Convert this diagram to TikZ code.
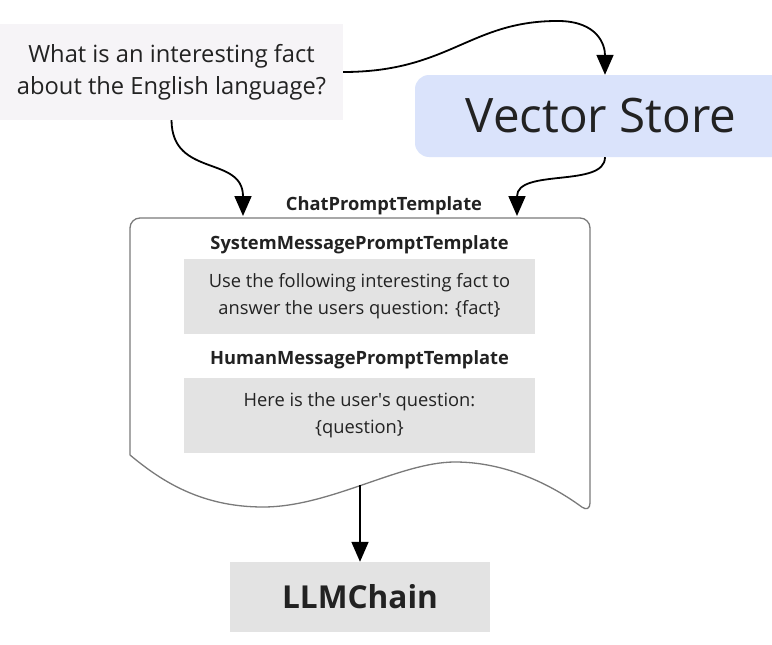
\documentclass[tikz,border=0pt]{standalone}
\usepackage{fontspec}
\setmainfont{Open Sans}
\usetikzlibrary{arrows.meta}

\definecolor{qfill}{HTML}{F6F4F7}
\definecolor{vsfill}{HTML}{DAE3FB}
\definecolor{boxfill}{HTML}{E3E3E3}
\definecolor{docline}{HTML}{7A7A7A}
\definecolor{ink}{HTML}{222222}

\tikzset{
  flow/.style={draw=black, line width=1.8pt, -{Triangle[length=20pt,width=17pt]}},
  msgbox/.style={fill=boxfill, minimum width=351pt, minimum height=75pt, align=center, text=ink,
    font=\fontsize{18.3}{27}\selectfont},
  msglabel/.style={text=ink, font=\fontsize{18.3}{22}\selectfont\bfseries},
}

\begin{document}
\begin{tikzpicture}[x=1pt, y=-1pt]
  \useasboundingbox (0,0) rectangle (772,645);

  % input and store
  \node[fill=qfill, minimum width=343pt, minimum height=96pt, align=center, text=ink,
        font=\fontsize{23.7}{32}\selectfont] (q) at (171.5,72)
        {What is an interesting fact\\about the English language?};
  \node[fill=vsfill, rounded corners=14pt, minimum width=372pt, minimum height=82pt, text=ink,
        font=\fontsize{47.5}{54}\selectfont] (vs) at (601,116) {Vector Store};

  % prompt template document
  \draw[docline, line width=1.3pt, fill=white, rounded corners=10pt]
    (130,455) -- (130,218) -- (590,218) -- (590,513) [sharp corners]
    .. controls (545,480) and (500,462) .. (455,462)
    .. controls (400,462) and (330,507) .. (263,507)
    .. controls (200,507) and (160,480) .. (130,455);
  \coordinate (ct-l) at (243,216);
  \coordinate (ct-r) at (517,216);
  \coordinate (docb) at (360,485);
  \node[msglabel] (cpt) at (384,206) {ChatPromptTemplate};

  \node[msglabel] (syslbl) at (359.5,245) {SystemMessagePromptTemplate};
  \node[msgbox] (sys) at (359.5,296.5) {Use the following interesting fact to\\answer the users question: \{fact\}};
  \node[msglabel] (humlbl) at (359.5,360) {HumanMessagePromptTemplate};
  \node[msgbox] (hum) at (359.5,415) {Here is the user\textquotesingle s question:\\\{question\}};

  \node[fill=boxfill, minimum width=260pt, minimum height=70pt, text=ink,
        font=\fontsize{31.6}{38}\selectfont\bfseries] (llm) at (360,597) {LLMChain};

  % connectors
  \draw[flow] (q.east) .. controls (450,72) and (470,20) .. (560,21)
    .. controls (598,22) and (605,45) .. ([xshift=4pt]vs.north);
  \draw[flow] (q.south) .. controls (172,178) and (243,155) .. (ct-l);
  \draw[flow] ([xshift=4pt]vs.south) .. controls (605,188) and (517,168) .. (ct-r);
  \draw[flow] (docb) -- (llm.north);
\end{tikzpicture}
\end{document}
